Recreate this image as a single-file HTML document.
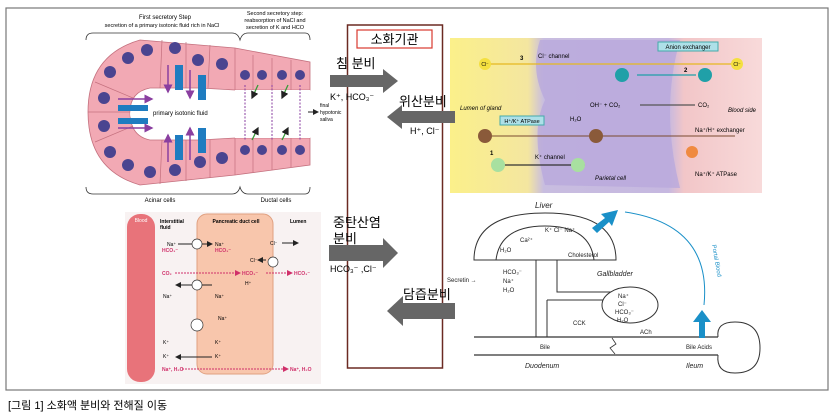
<!DOCTYPE html>
<html><head><meta charset="utf-8"><style>
body{margin:0;background:#fff;width:840px;height:415px;overflow:hidden;font-family:"Liberation Sans","Noto Sans CJK KR",sans-serif}
svg{position:absolute;left:0;top:0}
</style></head><body>
<svg width="840" height="415" viewBox="0 0 840 415" font-family="Liberation Sans, Noto Sans CJK KR, sans-serif">
<defs>
<marker id="ak" markerWidth="6" markerHeight="6" refX="5" refY="3" orient="auto"><path d="M0,0L6,3L0,6z" fill="#222"/></marker>
<marker id="ap" markerWidth="6" markerHeight="6" refX="5" refY="3" orient="auto"><path d="M0,0L6,3L0,6z" fill="#8a3fa0"/></marker>
<marker id="ar" markerWidth="6" markerHeight="6" refX="5" refY="3" orient="auto"><path d="M0,0L6,3L0,6z" fill="#d0306a"/></marker>
<linearGradient id="gb" x1="0" x2="1"><stop offset="0" stop-color="#fbf08a"/><stop offset="0.25" stop-color="#f4e6a0"/><stop offset="0.3" stop-color="#c8bde0"/><stop offset="0.7" stop-color="#c6b8e0"/><stop offset="0.75" stop-color="#f2c6c8"/><stop offset="1" stop-color="#f8dada"/></linearGradient>
</defs>
<rect x="6" y="8" width="822" height="382" fill="none" stroke="#777" stroke-width="1.2"/>
<!-- top left salivary -->
<g>
<text x="165" y="19" font-size="6" text-anchor="middle">First secretory Step</text>
<text x="162" y="27" font-size="5.5" text-anchor="middle">secretion of a primary isotonic fluid rich in NaCl</text>
<text x="275" y="15" font-size="5.5" text-anchor="middle">Second secretory step:</text>
<text x="275" y="22" font-size="5.5" text-anchor="middle">reabsorption of NaCl and</text>
<text x="275" y="29" font-size="5.5" text-anchor="middle">secretion of K and HCO</text>
<path d="M86,40 Q86,33 93,33 L232,33 Q238,33 240,40 Q242,33 248,33 L305,33 Q310,33 310,40" fill="none" stroke="#333" stroke-width="0.8"/>
<path d="M86,187 Q86,194 93,194 L232,194 Q238,194 240,187 Q242,194 248,194 L305,194 Q310,194 310,187" fill="none" stroke="#333" stroke-width="0.8"/>
<text x="160" y="202" font-size="6" text-anchor="middle">Acinar cells</text>
<text x="276" y="202" font-size="6" text-anchor="middle">Ductal cells</text>
<path d="M140,40 L235,48 L310,62 L310,90 L235,90 L200,88 L150,88 Q130,92 130,112 Q130,136 150,140 L200,140 L235,138 L310,138 L310,165 L235,175 L140,185 Q88,170 88,112 Q88,55 140,40z" fill="#f2a9b4" stroke="#c4707e" stroke-width="0.8"/>
<ellipse cx="185" cy="114" rx="55" ry="25" fill="#fff"/>
<rect x="235" y="90" width="75" height="48" fill="#fff"/>
<g stroke="#c4707e" stroke-width="0.7"><line x1="235" y1="48" x2="235" y2="90"/><line x1="253" y1="55" x2="253" y2="90"/><line x1="272" y1="58" x2="272" y2="90"/><line x1="291" y1="60" x2="291" y2="90"/><line x1="235" y1="138" x2="235" y2="175"/><line x1="253" y1="138" x2="253" y2="172"/><line x1="272" y1="138" x2="272" y2="170"/><line x1="291" y1="138" x2="291" y2="167"/><line x1="210" y1="45" x2="208" y2="88"/><line x1="186" y1="42" x2="186" y2="88"/><line x1="162" y1="40" x2="160" y2="88"/><line x1="210" y1="140" x2="210" y2="178"/><line x1="186" y1="140" x2="186" y2="181"/><line x1="162" y1="140" x2="160" y2="184"/><line x1="88" y1="112" x2="130" y2="112"/><line x1="95" y1="82" x2="133" y2="98"/><line x1="95" y1="142" x2="133" y2="126"/></g>
<g fill="#4a4490">
<circle cx="110" cy="72" r="6"/><circle cx="128" cy="58" r="6"/><circle cx="147" cy="50" r="6"/><circle cx="175" cy="48" r="6"/><circle cx="198" cy="60" r="6"/><circle cx="222" cy="64" r="6"/>
<circle cx="104" cy="98" r="6"/><circle cx="104" cy="126" r="6"/><circle cx="110" cy="152" r="6"/><circle cx="128" cy="165" r="6"/><circle cx="150" cy="172" r="6"/><circle cx="175" cy="170" r="6"/><circle cx="200" cy="162" r="6"/><circle cx="222" cy="158" r="6"/>
<circle cx="245" cy="75" r="5"/><circle cx="262" cy="75" r="5"/><circle cx="282" cy="75" r="5"/><circle cx="300" cy="75" r="5"/>
<circle cx="245" cy="150" r="5"/><circle cx="262" cy="150" r="5"/><circle cx="282" cy="150" r="5"/><circle cx="300" cy="150" r="5"/>
</g>
<g fill="#1f7cc0"><rect x="175" y="65" width="8" height="25"/><rect x="198" y="75" width="8" height="25"/><rect x="175" y="135" width="8" height="25"/><rect x="198" y="128" width="8" height="25"/><rect x="118" y="105" width="30" height="6"/><rect x="118" y="118" width="30" height="6"/></g>
<g stroke="#8a3fa0" stroke-width="1.5" marker-end="url(#ap)"><line x1="168" y1="65" x2="168" y2="92"/><line x1="190" y1="70" x2="190" y2="98"/><line x1="168" y1="162" x2="168" y2="135"/><line x1="190" y1="160" x2="190" y2="128"/><line x1="118" y1="99" x2="152" y2="99"/><line x1="118" y1="128" x2="152" y2="128"/></g>
<text x="153" y="115" font-size="6">primary isotonic fluid</text>
<g stroke="#3a9a3a" stroke-width="1.3" marker-end="url(#ak)"><line x1="258" y1="85" x2="252" y2="98"/><line x1="288" y1="85" x2="282" y2="98"/><line x1="252" y1="140" x2="258" y2="128"/><line x1="282" y1="140" x2="288" y2="128"/></g>
<g stroke="#8a3fa0" stroke-dasharray="2,1.5" stroke-width="1"><line x1="245" y1="85" x2="245" y2="140"/><line x1="272" y1="85" x2="272" y2="140"/><line x1="300" y1="85" x2="300" y2="140"/></g>
<line x1="308" y1="112" x2="318" y2="112" stroke="#222" marker-end="url(#ak)"/>
<text x="320" y="107" font-size="5">final</text><text x="320" y="114" font-size="5">hypotonic</text><text x="320" y="121" font-size="5">saliva</text>
</g>
<!-- center box -->
<rect x="347.5" y="25" width="95" height="343" fill="none" stroke="#6b2a22" stroke-width="1.5"/>
<rect x="357" y="30" width="75" height="18" fill="#fff" stroke="#d83a30" stroke-width="1.2"/>
<text x="394.5" y="44" font-size="13" text-anchor="middle">소화기관</text>
<!-- top right gastric -->
<rect x="450" y="38" width="312" height="155" fill="url(#gb)"/>
<path d="M540,40 Q530,70 545,100 Q530,130 545,185 L680,188 Q660,110 680,40z" fill="#b9a9dc" opacity="0.8"/>
<line x1="485" y1="64" x2="737" y2="64" stroke="#e6b820" stroke-width="1.2"/>
<circle cx="485" cy="64" r="6" fill="#f4e040"/><text x="485" y="66" font-size="5" text-anchor="middle">Cl⁻</text>
<circle cx="737" cy="64" r="6" fill="#f4e040"/><text x="737" y="66" font-size="5" text-anchor="middle">Cl⁻</text>
<text x="520" y="60" font-size="6" font-weight="bold">3</text><text x="538" y="58" font-size="6">Cl⁻ channel</text>
<rect x="658" y="42" width="60" height="9" fill="#aee0e8" stroke="#4aa"/><text x="688" y="49" font-size="6" text-anchor="middle">Anion exchanger</text>
<circle cx="622" cy="75" r="7" fill="#20a0a8"/><circle cx="705" cy="75" r="7" fill="#20a0a8"/>
<line x1="637" y1="75" x2="696" y2="75" stroke="#20a0a8" stroke-width="1.2"/><text x="684" y="72" font-size="6" font-weight="bold">2</text>
<text x="590" y="107" font-size="6">OH⁻ + CO₂</text><text x="698" y="107" font-size="6">CO₂</text>
<line x1="695" y1="105" x2="640" y2="105" stroke="#555" stroke-width="1.2"/>
<text x="460" y="110" font-size="6" font-style="italic">Lumen of gland</text><text x="728" y="112" font-size="6" font-style="italic">Blood side</text>
<rect x="500" y="116" width="44" height="9" fill="#aee0e8" stroke="#4aa"/><text x="522" y="123" font-size="5.5" text-anchor="middle">H⁺/K⁺ ATPase</text>
<text x="570" y="121" font-size="6">H₂O</text>
<line x1="485" y1="136" x2="735" y2="136" stroke="#7a4a30" stroke-width="1"/>
<circle cx="485" cy="136" r="7" fill="#8a5a3a"/><circle cx="596" cy="136" r="7" fill="#8a5a3a"/>
<text x="695" y="132" font-size="6">Na⁺/H⁺ exchanger</text><circle cx="692" cy="152" r="6" fill="#f08a40"/>
<line x1="498" y1="165" x2="585" y2="165" stroke="#333" stroke-width="1.3"/>
<circle cx="498" cy="165" r="7" fill="#a8e0a0"/><circle cx="578" cy="165" r="7" fill="#a8e0a0"/>
<text x="535" y="159" font-size="6">K⁺ channel</text><text x="490" y="155" font-size="6" font-weight="bold">1</text>
<text x="595" y="180" font-size="6" font-style="italic">Parietal cell</text><text x="695" y="176" font-size="6">Na⁺/K⁺ ATPase</text>
<!-- arrows + labels -->
<path d="M330,75 L383,75 L383,69 L398,81 L383,93 L383,87 L330,87z" fill="#666"/>
<text x="336" y="68" font-size="13">침 분비</text>
<text x="330" y="100" font-size="9">K⁺, HCO₃⁻</text>
<path d="M455,111 L402,111 L402,105 L387,117 L402,129 L402,123 L455,123z" fill="#666"/>
<text x="399" y="106" font-size="13">위산분비</text>
<text x="410" y="134" font-size="9">H⁺, Cl⁻</text>
<path d="M329,245 L383,245 L383,238 L398,253 L383,268 L383,261 L329,261z" fill="#666"/>
<text x="333" y="227" font-size="13">중탄산염</text><text x="333" y="243" font-size="13">분비</text>
<text x="330" y="272" font-size="9">HCO₃⁻ ,Cl⁻</text>
<path d="M455,303 L403,303 L403,296 L387,311 L403,326 L403,319 L455,319z" fill="#666"/>
<text x="403" y="299" font-size="13">담즙분비</text>
<!-- bottom left pancreas -->
<rect x="125" y="212" width="196" height="172" fill="#f8f2f2"/>
<rect x="127" y="214" width="28" height="168" rx="13" fill="#e8737a"/>
<text x="141" y="222" font-size="5" fill="#fff" text-anchor="middle">Blood</text>
<rect x="197" y="214" width="76" height="160" rx="10" fill="#f8c6ac" stroke="#e0a080"/>
<text x="160" y="223" font-size="5" font-weight="bold">Interstitial</text><text x="160" y="229" font-size="5" font-weight="bold">fluid</text>
<text x="236" y="223" font-size="5" font-weight="bold" text-anchor="middle">Pancreatic duct cell</text><text x="290" y="223" font-size="5" font-weight="bold">Lumen</text>
<g font-size="5"><text x="167" y="246">Na⁺</text><text x="215" y="246">Na⁺</text><text x="270" y="245">Cl⁻</text><text x="250" y="262">Cl⁻</text><text x="163" y="298">Na⁺</text><text x="215" y="298">Na⁺</text><text x="218" y="320">Na⁺</text><text x="163" y="344">K⁺</text><text x="215" y="344">K⁺</text><text x="163" y="358">K⁺</text><text x="215" y="358">K⁺</text><text x="245" y="285">H⁺</text></g>
<g font-size="5" fill="#d0306a" font-weight="bold"><text x="162" y="252">HCO₃⁻</text><text x="215" y="252">HCO₃⁻</text><text x="162" y="275">CO₂</text><text x="242" y="275">HCO₃⁻</text><text x="294" y="275">HCO₃⁻</text><text x="162" y="371">Na⁺, H₂O</text><text x="290" y="371">Na⁺, H₂O</text></g>
<g stroke="#d0306a" stroke-dasharray="2,1" marker-end="url(#ar)"><line x1="175" y1="273" x2="240" y2="273"/><line x1="182" y1="369" x2="288" y2="369"/><line x1="266" y1="273" x2="292" y2="273"/></g>
<g stroke="#222" marker-end="url(#ak)"><line x1="178" y1="244" x2="212" y2="244"/><line x1="282" y1="243" x2="298" y2="243"/><line x1="212" y1="285" x2="176" y2="285"/><line x1="212" y1="357" x2="176" y2="357"/><line x1="266" y1="260" x2="258" y2="260"/></g>
<g fill="#fff" stroke="#333" stroke-width="0.7"><circle cx="197" cy="244" r="5"/><circle cx="273" cy="262" r="5"/><circle cx="197" cy="285" r="5"/><circle cx="197" cy="325" r="6"/></g>
<!-- bottom right liver -->
<g stroke="#333" fill="none" stroke-width="1">
<path d="M474,260 Q474,213 545,213 Q616,213 616,260 Z" fill="#fff"/>
<path d="M496,260 Q500,226 545,226 Q590,226 594,260"/>
<path d="M536,260 L536,337 M557,260 L557,292 L620,292 M547,300 L547,337 M547,300 L605,300"/>
<ellipse cx="630" cy="305" rx="28" ry="18" fill="#fff"/>
<line x1="474" y1="337" x2="718" y2="337" stroke-width="1.3"/><line x1="474" y1="355" x2="718" y2="355" stroke-width="1.3"/>
<path d="M718,337 Q716,322 735,322 Q760,322 760,348 Q760,373 735,373 Q716,373 718,355"/>
<path d="M612,338 L616,344 L610,348 L615,354" stroke-width="0.8"/>
</g>
<g font-size="7" fill="#222">
<text x="535" y="208" font-style="italic" font-size="8">Liver</text>
<text x="568" y="257" font-size="6">Cholesterol</text>
<text x="545" y="232" font-size="6">K⁺ Cl⁻ Na⁺</text><text x="520" y="242" font-size="6">Ca²⁺</text>
<text x="500" y="252" font-size="6">H₂O</text>
<text x="597" y="276" font-size="7" font-style="italic">Gallbladder</text>
<text x="447" y="282" font-size="6">Secretin →</text>
<text x="503" y="274" font-size="6">HCO₃⁻</text><text x="503" y="283" font-size="6">Na⁺</text><text x="503" y="292" font-size="6">H₂O</text>
<text x="618" y="298" font-size="6">Na⁺</text><text x="618" y="306" font-size="6">Cl⁻</text><text x="615" y="314" font-size="6">HCO₃⁻</text><text x="617" y="322" font-size="6">H₂O</text>
<text x="573" y="325" font-size="6">CCK</text><text x="640" y="334" font-size="6">ACh</text>
<text x="540" y="349" font-size="6">Bile</text><text x="686" y="349" font-size="6">Bile Acids</text>
<text x="525" y="368" font-style="italic">Duodenum</text><text x="686" y="368" font-style="italic">Ileum</text>
</g>
<path d="M699,338 L699,322 L693,322 L702,310 L711,322 L705,322 L705,338z" fill="#1a90c8"/>
<path d="M592,228 L605,218 L601,214 L618,210 L612,226 L609,222 L597,233z" fill="#1a90c8"/>
<path d="M704,305 Q712,225 625,212" fill="none" stroke="#1a90c8" stroke-width="1"/>
<text x="712" y="245" font-size="6" fill="#1a90c8" transform="rotate(80 712 245)">Portal Blood</text>
<text x="8" y="409" font-size="11">[그림 1] 소화액 분비와 전해질 이동</text>
</svg>
</body></html>
